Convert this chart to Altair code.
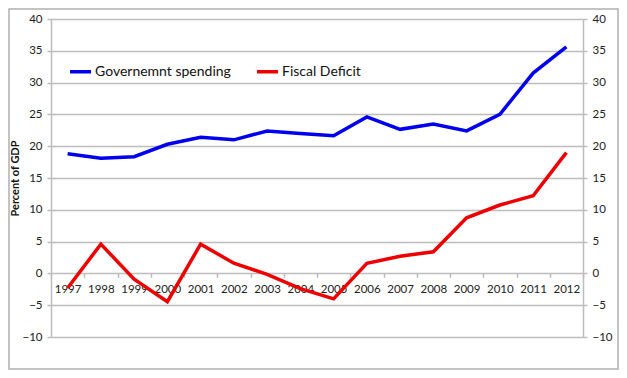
import altair as alt
import pandas as pd

years = [str(y) for y in range(1997, 2013)]
gov_spending = [18.8, 18.1, 18.35, 20.3, 21.4, 21.0, 22.4, 22.0, 21.65, 24.6, 22.65, 23.5, 22.4, 25.0, 31.5, 35.6]
fiscal_deficit = [-2.3, 4.6, -0.9, -4.45, 4.6, 1.6, -0.15, -2.4, -4.0, 1.6, 2.7, 3.4, 8.75, 10.75, 12.2, 19.0]
series_names = ["Governemnt spending", "Fiscal Deficit"]
series_colors = ["#0000EE", "#EE0000"]
y_ticks = [-10, -5, 0, 5, 10, 15, 20, 25, 30, 35, 40]

rows = []
for i, yr in enumerate(years):
    rows.append({"year": yr, "series": series_names[0], "value": gov_spending[i]})
    rows.append({"year": yr, "series": series_names[1], "value": fiscal_deficit[i]})
df = pd.DataFrame(rows)

W, H = 532, 318
FONT = "Lato"
GRAY = "#bdbdbd"

yscale = alt.Scale(domain=[-10, 40], nice=False, zero=False)
xscale = alt.Scale(type="band", paddingInner=0, paddingOuter=0)

x_axis = alt.Axis(orient="bottom", offset=-63.6, domain=False, tickBand="extent",
                  ticks=True, tickColor=GRAY, tickSize=4, tickWidth=1.5,
                  labelAngle=0, labelFont=FONT, labelFontSize=11.5, labelColor="#222",
                  labelPadding=6, grid=False)

x_enc = alt.X("year:O", scale=xscale, bandPosition=0.5, sort=years, title=None, axis=x_axis)

lines = alt.Chart(df).mark_line(strokeWidth=3.5).encode(
    x=x_enc,
    y=alt.Y("value:Q", scale=yscale, title="Percent of GDP",
            axis=alt.Axis(orient="left", values=y_ticks, grid=True, gridColor=GRAY, gridWidth=1.5,
                          domainColor=GRAY, domainWidth=1.5, tickColor=GRAY, tickSize=4, tickWidth=1.5,
                          labelFont=FONT, labelFontSize=11.5, labelColor="#222", labelPadding=5,
                          titleFont=FONT, titleFontSize=11, titleFontWeight="bold", titleColor="#111",
                          titleX=-36, titleY=159, titleAlign="center", titleBaseline="middle")),
    color=alt.Color("series:N", sort=series_names,
                    scale=alt.Scale(domain=series_names, range=series_colors),
                    legend=alt.Legend(orient="none", legendX=17, legendY=40, direction="horizontal",
                                      title=None, symbolType="stroke", symbolStrokeWidth=3.5,
                                      symbolSize=441, labelFont=FONT, labelFontSize=14,
                                      labelColor="#111", labelOffset=2, columnPadding=19, padding=0)),
    detail="series:N",
)

right_axis = alt.Chart(df).mark_line(opacity=0).encode(
    x=x_enc,
    y=alt.Y("value:Q", scale=yscale, title=None,
            axis=alt.Axis(orient="right", values=y_ticks, grid=False,
                          domainColor=GRAY, domainWidth=1.5, tickColor=GRAY, tickSize=4, tickWidth=1.5,
                          labelFont=FONT, labelFontSize=11.5, labelColor="#222", labelPadding=5)),
    detail="series:N",
)

border = alt.Chart(pd.DataFrame({"a": [0]})).mark_rect(
    fill="transparent", stroke="#b0b0b0", strokeWidth=1.5
).encode(
    x=alt.value(-42), x2=alt.value(567), y=alt.value(-10), y2=alt.value(350)
)

chart = alt.layer(border, lines, right_axis).resolve_axis(y="independent").properties(
    width=W, height=H,
    autosize=alt.AutoSizeParams(type="none"),
    padding={"left": 43, "top": 11, "right": 36, "bottom": 33},
).configure_view(stroke=None)

chart.save("out.html", embed_options={"renderer": "svg", "actions": False})
